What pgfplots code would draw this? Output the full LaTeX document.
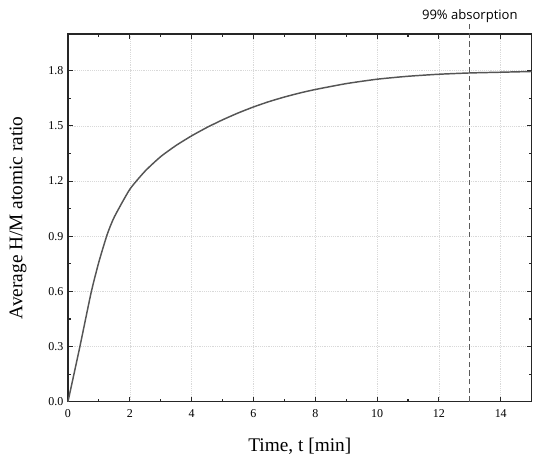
\documentclass[border=0pt]{standalone}
\usepackage{fontspec}
\setmainfont{Liberation Serif}
\newfontfamily\labelsans{Open Sans}
\usepackage{pgfplots}
\pgfplotsset{compat=1.18}
\definecolor{CurveGray}{RGB}{85,85,85}
\definecolor{DashGray}{RGB}{90,90,90}

\begin{document}
\begin{tikzpicture}
  \useasboundingbox (-51pt,-42.75pt) rectangle (349pt,301.5pt);
  \begin{axis}[
    at={(0,0)}, anchor=south west,
    scale only axis,
    width=348pt, height=276pt,
    xmin=0, xmax=15, ymin=0, ymax=2.0,
    xtick={0,2,...,14}, minor x tick num=1,
    ytick={0,0.3,...,1.8}, minor y tick num=1,
    /pgf/number format/assume math mode=true,
    xticklabel={\pgfmathprintnumber{\tick}},
    yticklabel={\pgfmathprintnumber[fixed,fixed zerofill,precision=1]{\tick}},
    tick align=inside,
    major tick length=3.75pt, minor tick length=2.25pt,
    tick style={black!85, line width=0.8pt},
    axis line style={black!85, line width=0.9pt},
    grid=major,
    major grid style={densely dotted, gray!30, line width=0.4pt},
    tick label style={font=\rmfamily\fontsize{9}{10}\selectfont},
    xticklabel style={yshift=-2.5pt},
    xlabel={Time, t [min]},
    ylabel={Average H/M atomic ratio},
    label style={font=\rmfamily\fontsize{14.5}{16}\selectfont},
    xlabel style={at={(axis description cs:0.5,-0.1359)}, anchor=base},
    ylabel style={at={(axis description cs:-0.1078,0.5)}, anchor=center},
    clip=false,
  ]
  \addplot[color=CurveGray, line width=1.1pt, smooth, tension=0.35] coordinates {
    (0,0) (0.38,0.295) (0.75,0.594) (1.0,0.760) (1.27,0.910) (1.5,1.005)
    (2.0,1.155) (2.5,1.255) (3.0,1.333) (3.5,1.394) (4.0,1.446)
    (4.5,1.492) (5.0,1.533) (5.5,1.570) (6.0,1.603) (6.5,1.632)
    (7.0,1.657) (7.5,1.679) (8.0,1.698) (9.0,1.730) (10.0,1.754)
    (11.0,1.770) (12.0,1.781) (13.0,1.788) (14.0,1.792) (15.0,1.796)
  };
  \addplot[color=DashGray, line width=0.8pt, dash pattern=on 4pt off 2.5pt] coordinates {(13,0) (13,2.065)};
  \node[font=\labelsans\fontsize{9.8}{11}\selectfont, anchor=base, inner sep=0pt, yshift=10.5pt] at (axis cs:13,2.0) {99\% absorption};
  \end{axis}
\end{tikzpicture}
\end{document}
